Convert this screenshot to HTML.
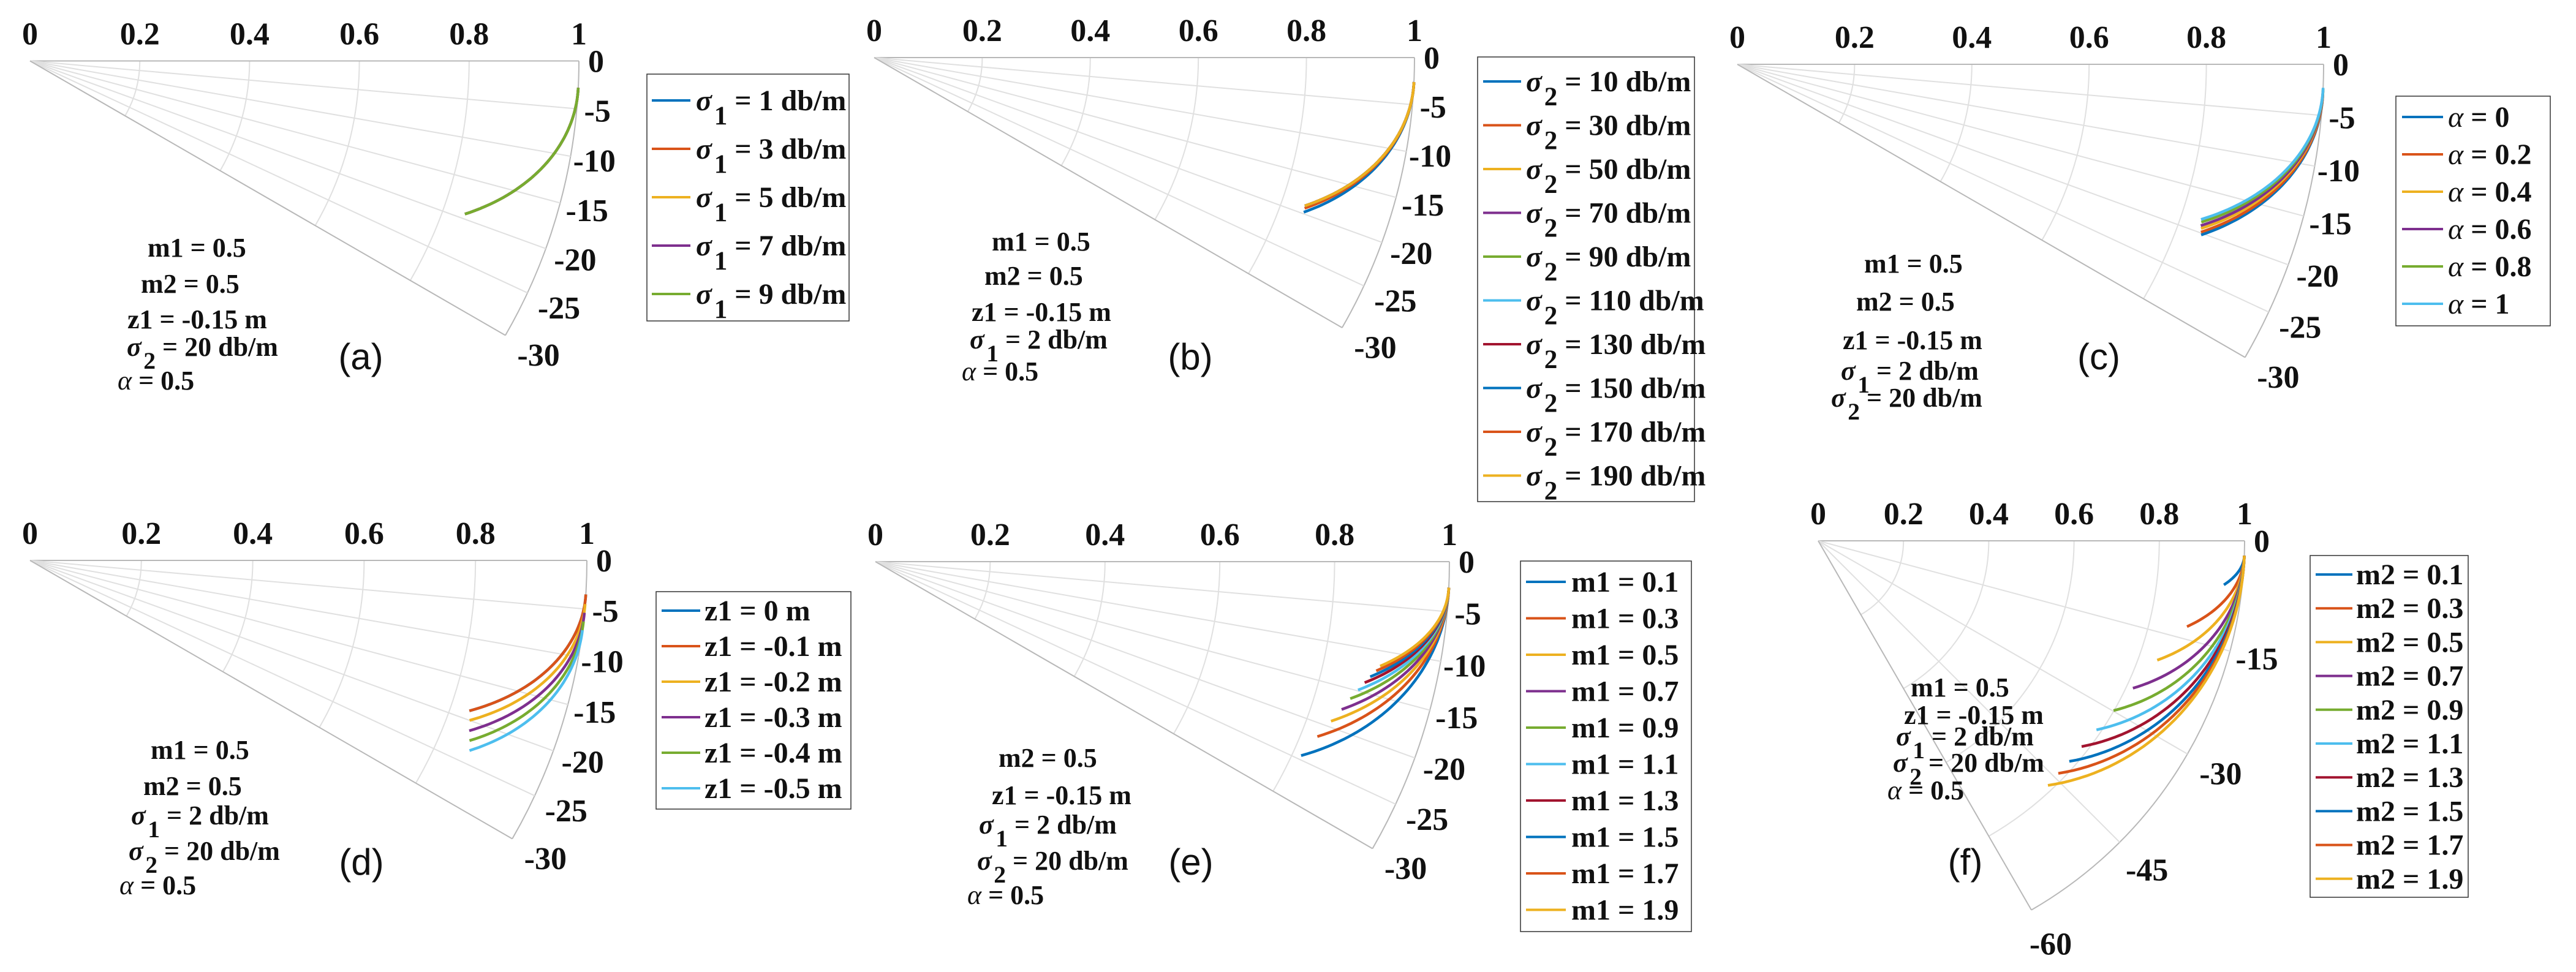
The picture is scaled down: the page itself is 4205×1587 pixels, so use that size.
<!DOCTYPE html>
<html><head><meta charset="utf-8"><title>Polar plots (a)–(f)</title>
<style>
html,body{margin:0;padding:0;background:#fff;}
svg{display:block;}
text{font-family:"Liberation Serif",serif;font-weight:bold;fill:#111;}
.letter{font-family:"Liberation Sans",sans-serif;font-weight:normal;}
</style></head>
<body>
<svg id="fig" xmlns="http://www.w3.org/2000/svg" width="4205" height="1587" viewBox="0 0 4205 1587"></svg>
<script>
// ---------------- DATA ----------------
const aLabels=["σ_1 = 1 db/m","σ_1 = 3 db/m","σ_1 = 5 db/m","σ_1 = 7 db/m","σ_1 = 9 db/m"];
const aThetaStart=[2.8,2.8,2.8,2.8,2.8];
const aThetaEnd=[19.4,19.4,19.4,19.4,19.4];
const aREnd=[0.84,0.84,0.84,0.84,0.84];

const bLabels=["σ_2 = 10 db/m","σ_2 = 30 db/m","σ_2 = 50 db/m","σ_2 = 70 db/m","σ_2 = 90 db/m","σ_2 = 110 db/m","σ_2 = 130 db/m","σ_2 = 150 db/m","σ_2 = 170 db/m","σ_2 = 190 db/m"];
const bThetaStart=[2.6,2.6,2.6,2.6,2.6,2.6,2.6,2.6,2.6,2.6];
const bThetaEnd=[19.8,19.3,19.0,19.0,19.0,19.0,19.0,19.0,19.0,19.0];
const bREnd=[0.845,0.844,0.843,0.843,0.843,0.843,0.843,0.843,0.843,0.843];

const cLabels=["α = 0","α = 0.2","α = 0.4","α = 0.6","α = 0.8","α = 1"];
const cThetaStart=[3.0,2.9,2.7,2.6,2.4,2.3];
const cThetaEnd=[20.2,19.9,19.5,19.2,18.8,18.5];
const cREnd=[0.843,0.841,0.839,0.837,0.836,0.834];

const dLabels=["z1 = 0 m","z1 = -0.1 m","z1 = -0.2 m","z1 = -0.3 m","z1 = -0.4 m","z1 = -0.5 m"];
const dThetaStart=[3.5,3.5,4.5,5.4,6.3,7.2];
const dThetaEnd=[18.9,18.9,20.0,21.2,22.3,23.4];
const dREnd=[0.834,0.834,0.840,0.846,0.853,0.860];

const eLabels=["m1 = 0.1","m1 = 0.3","m1 = 0.5","m1 = 0.7","m1 = 0.9","m1 = 1.1","m1 = 1.3","m1 = 1.5","m1 = 1.7","m1 = 1.9"];
const eThetaStart=[2.6,2.6,2.6,2.6,2.6,2.6,2.6,2.6,2.6,2.6];
const eThetaEnd=[24.5,21.6,19.3,17.6,16.1,14.9,13.9,13.1,12.3,11.7];
const eREnd=[0.815,0.828,0.841,0.852,0.861,0.870,0.878,0.885,0.893,0.898];

const fLabels=["m2 = 0.1","m2 = 0.3","m2 = 0.5","m2 = 0.7","m2 = 0.9","m2 = 1.1","m2 = 1.3","m2 = 1.5","m2 = 1.7","m2 = 1.9"];
const fThetaStart=[2.0,2.0,2.0,2.0,2.0,2.0,2.0,2.0,2.0,2.0];
const fThetaEnd=[6.2,13.1,19.4,25.1,29.9,34.2,38.0,41.3,44.1,46.8];
const fREnd=[0.957,0.888,0.843,0.815,0.799,0.789,0.784,0.784,0.784,0.787];

const rTicks=["0","0.2","0.4","0.6","0.8","1"];
const thetaTicks530=[0,5,10,15,20,25,30];
const thetaTicks1560=[0,15,30,45,60];

// ---------------- LAYOUT ----------------
const COLORS=["#0072BD","#D95319","#EDB120","#7E2F8E","#77AC30","#4DBEEE","#A2142F","#0072BD","#D95319","#EDB120"];
const NS="http://www.w3.org/2000/svg";
const svg=document.getElementById("fig");
function mk(tag,parent){const e=document.createElementNS(NS,tag);parent.appendChild(e);return e;}

function richText(parent,str,x,y,size){
  const t=mk("text",parent);
  t.setAttribute("x",x);t.setAttribute("y",y);t.setAttribute("font-size",size);
  if(str.indexOf("_")===1){
    const base=str[0],sub=str[2],rest=str.slice(3);
    const s1=mk("tspan",t);s1.setAttribute("font-style","italic");s1.textContent=base;
    const s2=mk("tspan",t);s2.setAttribute("dx",size*0.08);s2.setAttribute("dy",size*0.48);s2.setAttribute("font-size",size*0.9);s2.textContent=sub;
    const s3=mk("tspan",t);s3.setAttribute("dy",-size*0.48);s3.textContent=rest;
  } else if(str[0]==="α"){
    const s1=mk("tspan",t);s1.setAttribute("font-style","italic");s1.setAttribute("font-weight","normal");s1.textContent="α";
    const s3=mk("tspan",t);s3.textContent=str.slice(1);
  } else t.textContent=str;
  return t;
}

const panels=[
 {id:"a",ox:49,oy:99.5,R:896,tmax:30,ticks:thetaTicks530,labels:aLabels,ts:aThetaStart,te:aThetaEnd,re:aREnd,
  letter:[589,582],leg:{x:1056,y:121,w:330,h:403,first:164,gap:79,lx1:1064,lx2:1127,tx:1136,fs:48},
  notes:[["m1 = 0.5",241,403],["m2 = 0.5",230,462],["z1 = -0.15 m",208,520],["σ_2 = 20 db/m",207,565],["α = 0.5",192,620]]},
 {id:"b",ox:1427,oy:94,R:882,tmax:30,ticks:thetaTicks530,labels:bLabels,ts:bThetaStart,te:bThetaEnd,re:bREnd,
  letter:[1943,582],leg:{x:2412,y:93,w:354,h:726,first:133,gap:71.5,lx1:2421,lx2:2483,tx:2491,fs:48},
  notes:[["m1 = 0.5",1619,393],["m2 = 0.5",1607,449],["z1 = -0.15 m",1586,508],["σ_1 = 2 db/m",1583,553],["α = 0.5",1570,605]]},
 {id:"c",ox:2836,oy:105,R:957,tmax:30,ticks:thetaTicks530,labels:cLabels,ts:cThetaStart,te:cThetaEnd,re:cREnd,
  letter:[3426,582],leg:{x:3911,y:157,w:252,h:375,first:191,gap:61,lx1:3921,lx2:3988,tx:3996,fs:48},
  notes:[["m1 = 0.5",3043,429],["m2 = 0.5",3030,491],["z1 = -0.15 m",3008,554],["σ_1 = 2 db/m",3005,604],["σ_2 = 20 db/m",2989,648]]},
 {id:"d",ox:49,oy:915,R:909,tmax:30,ticks:thetaTicks530,labels:dLabels,ts:dThetaStart,te:dThetaEnd,re:dREnd,
  letter:[590,1407],leg:{x:1071,y:966,w:318,h:355,first:997,gap:58,lx1:1080,lx2:1143,tx:1150,fs:48},
  notes:[["m1 = 0.5",246,1223],["m2 = 0.5",234,1282],["σ_1 = 2 db/m",214,1330],["σ_2 = 20 db/m",210,1388],["α = 0.5",195,1444]]},
 {id:"e",ox:1429,oy:917,R:937,tmax:30,ticks:thetaTicks530,labels:eLabels,ts:eThetaStart,te:eThetaEnd,re:eREnd,
  letter:[1944,1407],leg:{x:2482,y:916,w:279,h:605,first:950,gap:59.5,lx1:2491,lx2:2556,tx:2565,fs:48},
  notes:[["m2 = 0.5",1630,1236],["z1 = -0.15 m",1619,1297],["σ_1 = 2 db/m",1598,1345],["σ_2 = 20 db/m",1595,1404],["α = 0.5",1579,1460]]},
 {id:"f",ox:2968,oy:883,R:696,tmax:60,ticks:thetaTicks1560,labels:fLabels,ts:fThetaStart,te:fThetaEnd,re:fREnd,
  letter:[3208,1407],leg:{x:3771,y:907,w:258,h:558,first:938,gap:55.2,lx1:3780,lx2:3840,tx:3846,fs:48},
  notes:[["m1 = 0.5",3119,1121],["z1 = -0.15 m",3108,1166],["σ_1 = 2 db/m",3095,1201],["σ_2 = 20 db/m",3090,1244],["α = 0.5",3081,1289]]}
];

panels.forEach(p=>{
  const g=mk("g",svg);
  
  
  const pt=(r,th)=>{const a=th*Math.PI/180;return [p.ox+p.R*r*Math.cos(a),p.oy+p.R*r*Math.sin(a)];};
  const grid=mk("g",g);
  
  
  [0.2,0.4,0.6,0.8,1].forEach(r=>{
    const s=pt(r,0),e=pt(r,p.tmax);
    const a=mk("path",grid);
    
    
    a.setAttribute("d",`M${s[0]},${s[1]} A${p.R*r},${p.R*r} 0 0 1 ${e[0]},${e[1]}`);
    a.setAttribute("fill","none");a.setAttribute("stroke",r===1?"#b8b8b8":"#e0e0e0");a.setAttribute("stroke-width",2);
  });
  p.ticks.forEach(th=>{
    const e=pt(1,th);
    const l=mk("line",grid);
    
    
    l.setAttribute("x1",p.ox);l.setAttribute("y1",p.oy);l.setAttribute("x2",e[0]);l.setAttribute("y2",e[1]);
    const edge=(th===0||th===p.tmax);
    l.setAttribute("stroke",edge?"#b8b8b8":"#e0e0e0");l.setAttribute("stroke-width",2);
  });
  rTicks.forEach(lbl=>{
    const r=parseFloat(lbl);
    const t=mk("text",g);
    
    
    t.setAttribute("x",p.ox+p.R*r);t.setAttribute("y",p.oy-45+18);
    t.setAttribute("text-anchor","middle");t.setAttribute("font-size",52);
    t.textContent=lbl;
  });
  p.ticks.forEach(th=>{
    const d=p.R+28+Math.min(1.15*th,35);
    const a=th*Math.PI/180;
    const t=mk("text",g);
    
    
    t.setAttribute("x",p.ox+d*Math.cos(a));t.setAttribute("y",p.oy+d*Math.sin(a)+18);
    t.setAttribute("text-anchor","middle");t.setAttribute("font-size",52);
    t.textContent=th===0?"0":"-"+th;
  });
  p.labels.forEach((lbl,i)=>{
    const pts=[];
    for(let k=0;k<=40;k++){
      const u=k/40;
      const th=p.ts[i]+(p.te[i]-p.ts[i])*u;
      const r=1-(1-p.re[i])*u*u;
      pts.push(pt(r,th).map(v=>v.toFixed(1)).join(","));
    }
    const c=mk("polyline",g);
    
    
    c.setAttribute("points",pts.join(" "));
    c.setAttribute("fill","none");c.setAttribute("stroke",COLORS[i]);c.setAttribute("stroke-width",4.5);
  });
  p.notes.forEach(n=>{
    const t=richText(g,n[0],n[1],n[2]+16,44);
    
    
  });
  const L=mk("text",g);
  
  
  L.setAttribute("class","letter");
  L.setAttribute("x",p.letter[0]);L.setAttribute("y",p.letter[1]+21);
  L.setAttribute("text-anchor","middle");L.setAttribute("font-size",60);
  L.textContent="("+p.id+")";
  const lg=mk("g",g);
  
  
  const box=mk("rect",lg);
  
  
  box.setAttribute("x",p.leg.x);box.setAttribute("y",p.leg.y);box.setAttribute("width",p.leg.w);box.setAttribute("height",p.leg.h);
  box.setAttribute("fill","#fff");box.setAttribute("stroke","#333");box.setAttribute("stroke-width",1.5);
  p.labels.forEach((lbl,i)=>{
    const y=p.leg.first+i*p.leg.gap;
    const eg=mk("g",lg);
    
    
    const ln=mk("line",eg);
    
    
    ln.setAttribute("x1",p.leg.lx1);ln.setAttribute("x2",p.leg.lx2);ln.setAttribute("y1",y);ln.setAttribute("y2",y);
    ln.setAttribute("stroke",COLORS[i]);ln.setAttribute("stroke-width",4);
    const t=richText(eg,lbl,p.leg.tx,y+16,p.leg.fs);
    
    
  });
});
</script>
</body></html>
